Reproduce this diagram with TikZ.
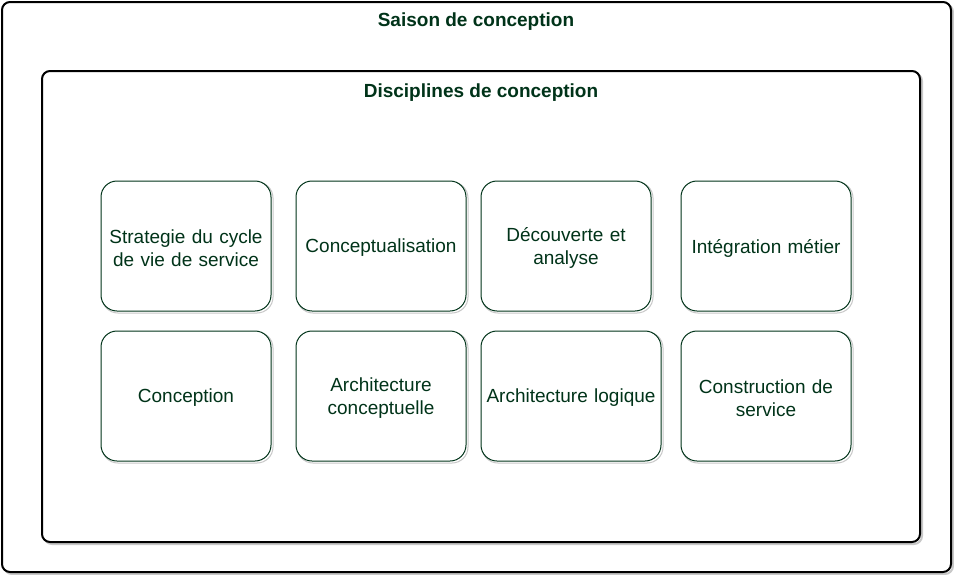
\documentclass[tikz,border=0pt]{standalone}
\usepackage{fontspec}
\setmainfont{Liberation Sans}
\usetikzlibrary{positioning}
\definecolor{sdgreen}{RGB}{0,51,25}
\definecolor{sdshadow}{RGB}{200,200,200}
\tikzset{
  frame/.style={draw=black,line width=1.5pt,rounded corners=6pt,fill=white,inner sep=0pt},
  frameshadow/.style={draw=sdshadow,line width=1.5pt,rounded corners=6pt},
  discbox/.style={draw=sdgreen,line width=0.75pt,rounded corners=12pt,fill=white,inner sep=0pt,
    minimum height=97.5pt},
  disctext/.style={text width=130pt,align=center,inner sep=0pt,
    text=sdgreen,font=\fontsize{14.25}{17.25}\selectfont},
  boxshadow/.style={draw=sdshadow,line width=0.75pt,rounded corners=12pt},
  title/.style={text=sdgreen,font=\fontsize{14.25}{17.25}\selectfont\bfseries,inner sep=0.75pt}
}
\begin{document}
\begin{tikzpicture}[x=0.75pt,y=0.75pt,yscale=-1]
\useasboundingbox (0,0) rectangle (954,575);

%Shape: Outer frame
\draw[frameshadow] (4,4) rectangle (953,574);
\draw[frame] (2,2) rectangle (951,572);
% Text Node
\node[title] (saison) at (476,22) {Saison de conception};

%Shape: Inner frame
\draw[frameshadow] (44,73) rectangle (922,544);
\draw[frame] (42,71) rectangle (920,542);
% Text Node
\node[title] (disc) at (481,93) {Disciplines de conception};

%Shape: Discipline boxes
\foreach \cx/\cy/\w/\nm/\txt in {
  186/246/170/strat/{Strategie du cycle\\de vie de service},
  381/246/170/concept/{Conceptualisation},
  566/246/170/decouv/{Découverte et\\analyse},
  766/246/170/integ/{Intégration métier},
  186/396/170/concep/{Conception},
  381/396/170/archc/{Architecture\\conceptuelle},
  571/396/180/archl/{Architecture logique},
  766/396/170/constr/{Construction de\\service}}{
  \draw[boxshadow] (\cx-\w/2+1,\cy-64) rectangle (\cx+\w/2+2,\cy+67);
  \node[discbox,minimum width=\w*0.75pt] (\nm) at (\cx,\cy) {};
  \node[disctext] (\nm-txt) at ([yshift=1.5pt]\nm.center) {\txt};
}

\end{tikzpicture}
\end{document}
